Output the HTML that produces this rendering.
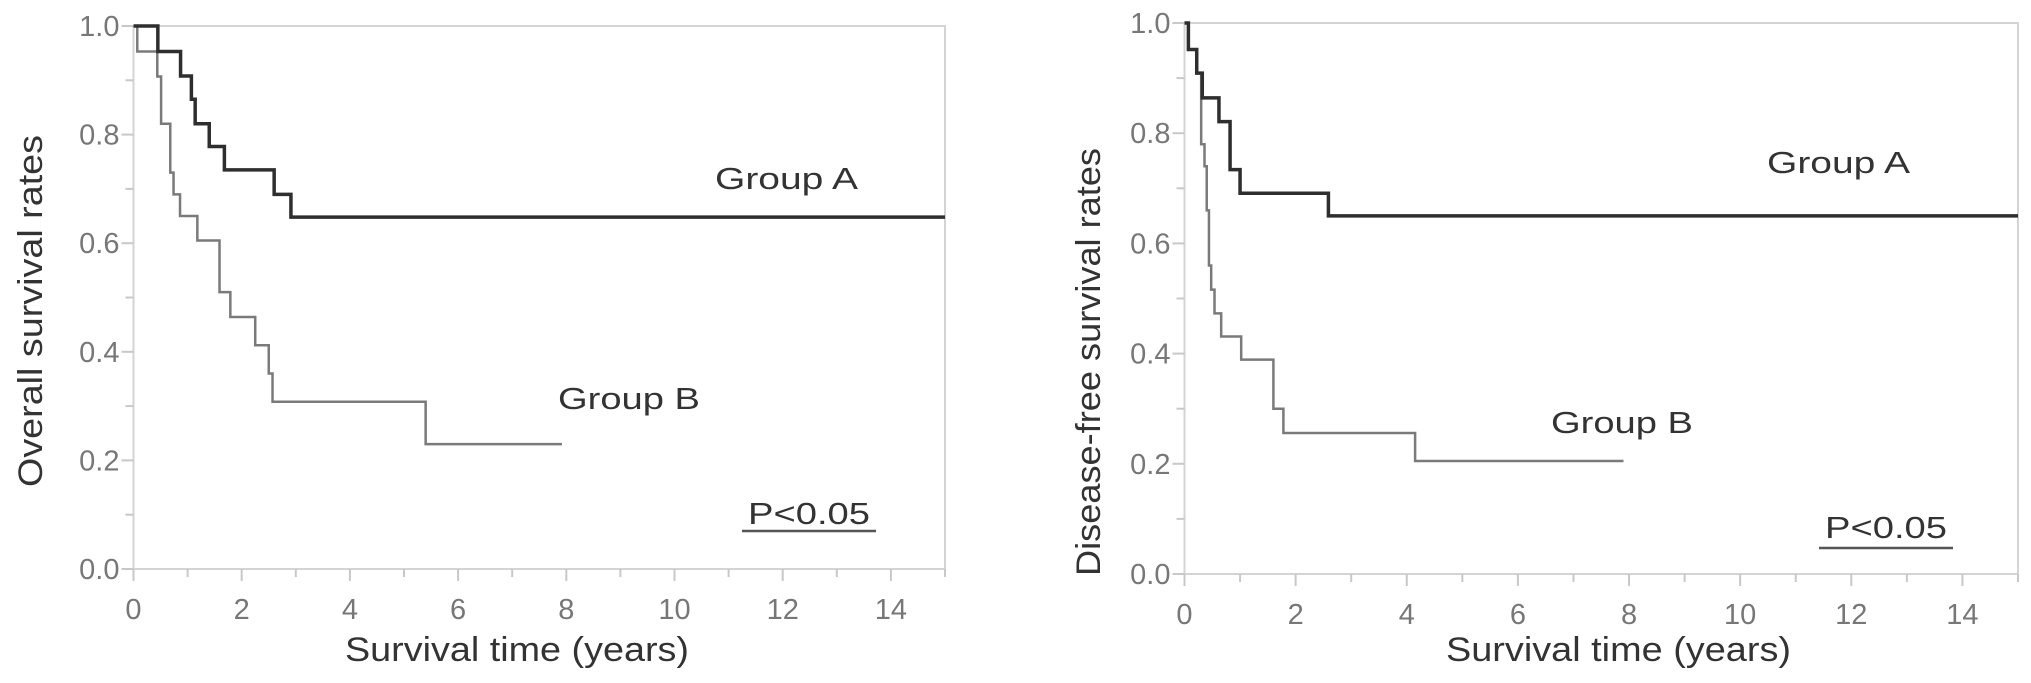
<!DOCTYPE html>
<html><head><meta charset="utf-8"><style>
html,body{margin:0;padding:0;background:#fff;}
svg{display:block;font-family:"Liberation Sans",sans-serif;}
</style></head><body>
<svg id="chart" width="2031" height="683" viewBox="0 0 2031 683" xmlns="http://www.w3.org/2000/svg"></svg>
<script>
// Overall survival (left panel)
const osGroupATimes = [0, 0.45, 0.87, 1.07, 1.14, 1.40, 1.68, 2.60, 2.91, 15];
const osGroupAValues = [1.0, 0.953, 0.908, 0.865, 0.82, 0.778, 0.735, 0.69, 0.648, 0.648];
const osGroupBTimes = [0, 0.07, 0.44, 0.51, 0.68, 0.74, 0.86, 1.18, 1.59, 1.79, 2.25, 2.50, 2.57, 5.40, 7.92];
const osGroupBValues = [1.0, 0.953, 0.907, 0.82, 0.73, 0.69, 0.65, 0.605, 0.51, 0.464, 0.412, 0.36, 0.308, 0.23, 0.23];
// Disease-free survival (right panel)
const dfsGroupATimes = [0, 0.07, 0.22, 0.32, 0.62, 0.82, 1.0, 2.59, 15];
const dfsGroupAValues = [1.0, 0.952, 0.909, 0.864, 0.821, 0.734, 0.691, 0.65, 0.65];
const dfsGroupBTimes = [0, 0.07, 0.22, 0.30, 0.36, 0.40, 0.44, 0.48, 0.54, 0.66, 1.02, 1.60, 1.78, 4.15, 7.9];
const dfsGroupBValues = [1.0, 0.952, 0.909, 0.78, 0.74, 0.66, 0.56, 0.516, 0.473, 0.431, 0.389, 0.30, 0.256, 0.205, 0.205];
const xTickLabels = ["0","2","4","6","8","10","12","14"];
const yTickLabels = ["0.0","0.2","0.4","0.6","0.8","1.0"];

const NS = "http://www.w3.org/2000/svg";
const svg = document.getElementById("chart");
function mk(tag, attrs, parent){
  const e = document.createElementNS(NS, tag);
  for (const k in attrs) e.setAttribute(k, attrs[k]);
  (parent||svg).appendChild(e);
  return e;
}
function panel(p){
  const g = mk("g", {});
  
  
  const sx = t => p.x0 + (t/15)*(p.x1-p.x0);
  const sy = v => p.y1 - v*(p.y1-p.y0);
  const fr = mk("rect", {x:p.x0, y:p.y0, width:p.x1-p.x0, height:p.y1-p.y0, fill:"none", stroke:"#d4d4d4", "stroke-width":2}, g);
  
  
  for (let i=0;i<=10;i++){
    const v=i/10, y=sy(v);
    const tk = mk("line", {x1:p.x0-(i%2?8:12), x2:p.x0, y1:y, y2:y, stroke:"#c8c8c8", "stroke-width":2}, g);
    
    
  }
  yTickLabels.forEach((lab,i)=>{
    const t = mk("text", {x:p.x0-14, y:sy(i*0.2)+10, "text-anchor":"end", "font-size":29, fill:"#777"}, g);
    t.textContent = lab;
    
    
  });
  for (let i=0;i<=15;i++){
    const x=sx(i);
    const tk = mk("line", {x1:x, x2:x, y1:p.y1, y2:p.y1+(i%2?8:12), stroke:"#c8c8c8", "stroke-width":2}, g);
    
    
  }
  xTickLabels.forEach((lab,i)=>{
    const t = mk("text", {x:sx(i*2), y:p.y1+50, "text-anchor":"middle", "font-size":29, fill:"#777"}, g);
    t.textContent = lab;
    
    
  });
  function step(ts, vs, color, w, name){
    let d = "M"+sx(ts[0])+","+sy(vs[0]);
    for (let i=1;i<ts.length;i++){
      d += " H"+sx(ts[i])+" V"+sy(vs[i]);
    }
    const pth = mk("path", {d:d, fill:"none", stroke:color, "stroke-width":w}, g);
    
    
  }
  step(p.bT, p.bV, "#7a7a7a", 2.5, "group-b-curve");
  step(p.aT, p.aV, "#2e2e2e", 3.5, "group-a-curve");
  const la = mk("text", {x:p.ax, y:p.ay, "font-size":31, fill:"#333", textLength:143, lengthAdjust:"spacingAndGlyphs"}, g);
  la.textContent = "Group A";
  
  
  const lb = mk("text", {x:p.bx, y:p.by, "font-size":31, fill:"#333", textLength:142, lengthAdjust:"spacingAndGlyphs"}, g);
  lb.textContent = "Group B";
  
  
  const pv = mk("text", {x:p.px, y:p.py, "text-anchor":"middle", "font-size":31, fill:"#333", textLength:122, lengthAdjust:"spacingAndGlyphs"}, g);
  pv.textContent = "P<0.05";
  
  
  const ul = mk("line", {x1:p.px-67, x2:p.px+67, y1:p.uy, y2:p.uy, stroke:"#555", "stroke-width":2.5}, g);
  
  
  const xt = mk("text", {x:(p.xtA+p.xtB)/2, y:661, "text-anchor":"middle", "font-size":34, fill:"#333", textLength:p.xtB-p.xtA, lengthAdjust:"spacingAndGlyphs"}, g);
  xt.textContent = "Survival time (years)";
  
  
  const yt = mk("text", {x:0, y:0, "text-anchor":"middle", "font-size":34, fill:"#333", textLength:p.ytLen, lengthAdjust:"spacingAndGlyphs", transform:"translate("+p.ytx+","+p.yty+") rotate(-90)"}, g);
  yt.textContent = p.ytitle;
  
  
}
panel({name:"overall-survival-chart", x0:133.5, x1:945, y0:26, y1:569,
  aT:osGroupATimes, aV:osGroupAValues, bT:osGroupBTimes, bV:osGroupBValues,
  ax:715, ay:189, bx:558, by:409, px:809, py:524, uy:531,
  xtA:345, xtB:689, ytx:42, yty:311, ytLen:352, ytitle:"Overall survival rates"});
panel({name:"disease-free-survival-chart", x0:1184.5, x1:2018, y0:23, y1:574,
  aT:dfsGroupATimes, aV:dfsGroupAValues, bT:dfsGroupBTimes, bV:dfsGroupBValues,
  ax:1767, ay:173, bx:1551, by:433, px:1886, py:538, uy:548,
  xtA:1446, xtB:1791, ytx:1100, yty:362, ytLen:428, ytitle:"Disease-free survival rates"});
</script>
</body></html>
